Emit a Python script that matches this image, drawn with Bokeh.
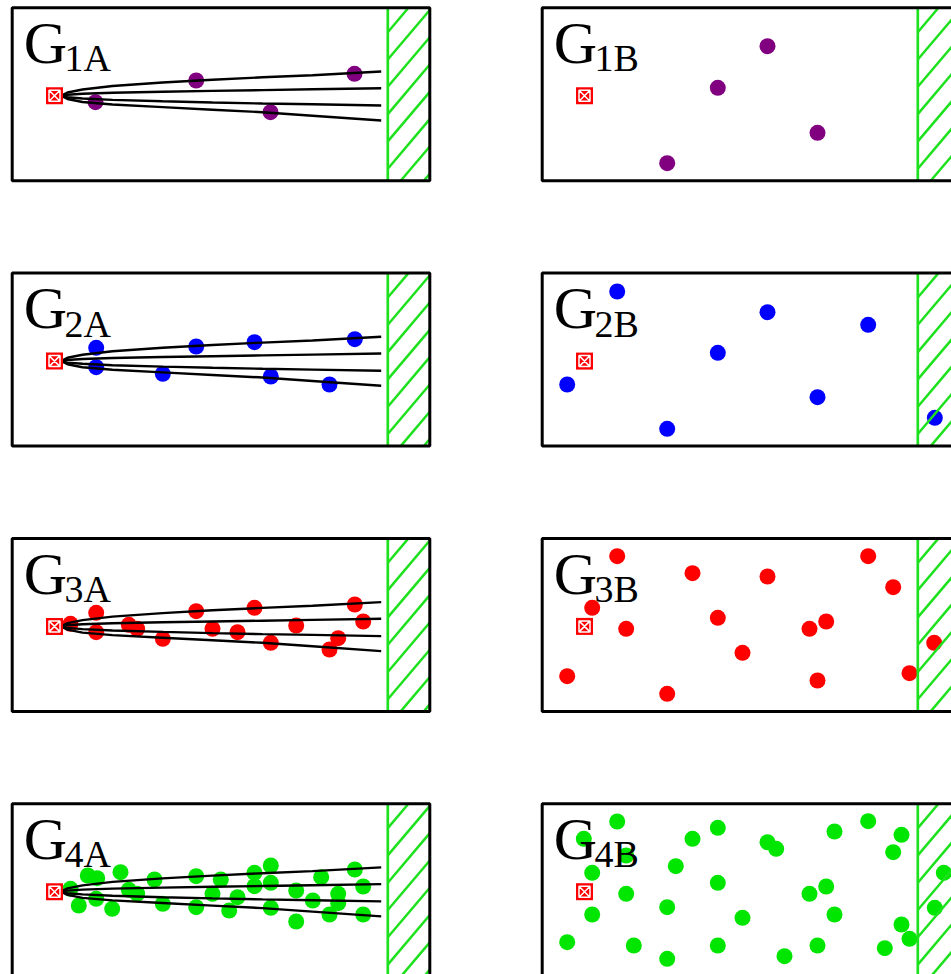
from bokeh.plotting import figure
from bokeh.models import Range1d
from bokeh.embed import file_html
from bokeh.resources import INLINE
from bokeh.core.properties import value

# ---------------- data (panel-local units: x to the right, y downward from the box's top-left) -------------
PANEL_LABELS = [["1A", "1B"], ["2A", "2B"], ["3A", "3B"], ["4A", "4B"]]
DOT_COLORS = ["#800080", "#0000ff", "#ff0000", "#00e600"]

SOURCE_X = [42.3]
SOURCE_Y = [88.0]

# sampled points of the four ray paths (A panels)
RAY_X = [50.3, 55.3, 70.3, 100.3, 150.3, 200.3, 250.3, 300.3, 369.0]
RAY_1_Y = [87.2, 84.7, 81.7, 78.2, 74.7, 71.9, 69.5, 67.4, 63.7]
RAY_2_Y = [87.7, 86.9, 85.9, 84.9, 83.9, 83.1, 82.3, 81.5, 80.4]
RAY_3_Y = [88.5, 89.5, 90.7, 92.1, 93.5, 94.7, 95.7, 96.5, 97.7]
RAY_4_Y = [88.7, 91.2, 94.2, 96.7, 99.3, 101.9, 104.4, 107.9, 112.7]

G1A_X = [83.3, 184.0, 258.3, 342.3]
G1A_Y = [94.4, 72.7, 104.4, 66.0]
G1B_X = [125.0, 175.6, 225.3, 275.3]
G1B_Y = [155.4, 80.0, 38.4, 125.0]

G2A_X = [84.0, 84.0, 150.6, 184.0, 242.3, 258.6, 317.3, 342.6]
G2A_Y = [74.7, 94.1, 100.7, 73.4, 69.1, 103.4, 111.4, 66.1]
G2B_X = [25.0, 75.0, 125.0, 175.6, 225.3, 275.3, 326.0, 392.6]
G2B_Y = [111.4, 18.4, 155.7, 79.7, 39.1, 124.1, 51.7, 144.7]

G3A_X = [58.3, 84.0, 84.0, 116.6, 125.0, 150.6, 184.0, 200.3, 225.3, 242.3, 258.6, 284.0, 317.3, 326.0, 342.6, 351.0]
G3A_Y = [85.4, 74.4, 93.8, 86.4, 90.4, 100.4, 72.8, 90.4, 93.8, 69.4, 104.4, 87.1, 111.1, 99.8, 66.1, 83.1]
G3B_X = [75.0, 150.3, 225.3, 326.0, 351.0, 50.0, 84.0, 175.6, 267.3, 284.0, 200.3, 25.0, 125.0, 275.3, 367.3, 392.0]
G3B_Y = [17.8, 34.8, 38.1, 17.8, 48.8, 69.4, 90.4, 79.4, 90.4, 83.1, 114.4, 137.8, 155.4, 142.1, 134.8, 104.4]

G4A_X = [58.3, 75.6, 85.0, 66.6, 84.0, 100.0, 108.3, 116.6, 125.0, 142.3, 150.6, 184.0, 184.0, 200.3, 208.6, 217.0,
         225.3, 242.3, 242.3, 258.6, 258.6, 258.6, 284.0, 284.0, 300.6, 309.0, 317.3, 326.0, 326.0, 342.6, 351.0, 351.0]
G4A_Y = [85.1, 71.8, 74.5, 101.8, 95.1, 105.1, 68.5, 86.1, 90.1, 75.8, 100.1, 72.5, 103.5, 90.1, 75.8, 106.8,
         93.5, 69.1, 82.5, 61.8, 79.1, 104.1, 86.8, 117.8, 96.8, 73.5, 110.8, 90.1, 99.5, 65.8, 82.8, 110.8]
G4B_X = [75.0, 41.6, 84.0, 50.0, 84.0, 50.0, 25.0, 91.6, 125.0, 125.0, 133.6, 150.3, 175.6, 175.6, 175.6, 200.3,
         225.3, 234.0, 242.3, 267.3, 284.0, 275.3, 292.3, 292.3, 326.0, 359.3, 351.0, 342.6, 359.3, 367.3, 401.6, 392.6]
G4B_Y = [17.8, 35.1, 51.8, 69.1, 90.1, 110.8, 138.5, 141.8, 155.1, 103.5, 62.5, 35.1, 24.1, 79.1, 141.8, 114.1,
         38.5, 45.1, 152.5, 90.1, 82.8, 141.8, 110.8, 27.8, 17.5, 31.1, 48.5, 144.5, 120.8, 135.1, 69.1, 104.1]

DOTS = {
    "1A": (G1A_X, G1A_Y), "1B": (G1B_X, G1B_Y),
    "2A": (G2A_X, G2A_Y), "2B": (G2B_X, G2B_Y),
    "3A": (G3A_X, G3A_Y), "3B": (G3B_X, G3B_Y),
    "4A": (G4A_X, G4A_Y), "4B": (G4B_X, G4B_Y),
}

# ---------------- layout / style ----------------
COL_X0 = [11.7, 541.7]
ROW_Y0 = [7.3, 272.6, 537.9, 803.2]
BOX_W = 417.6
BOX_H = 173.0
WALL_X = 375.6
HATCH_SLOPE = 1.18
HATCH_STEP = 27.3
HATCH_PHASE = 24.4
GREEN = "#1ee11e"
SERIF = value("Liberation Serif")

p = figure(width=951, height=974, x_range=Range1d(0, 951), y_range=Range1d(974, 0),
           output_backend="svg", toolbar_location=None, min_border=0)
p.axis.visible = False
p.grid.visible = False
p.outline_line_color = None
p.background_fill_color = "white"
p.border_fill_color = "white"

for r, row in enumerate(PANEL_LABELS):
    for c, lab in enumerate(row):
        ox, oy = COL_X0[c], ROW_Y0[r]
        dx, dy = DOTS[lab]
        p.scatter([ox + v for v in dx], [oy + v for v in dy], size=16,
                  fill_color=DOT_COLORS[r], line_color=None)

for r in range(4):
    for c in range(2):
        ox, oy = COL_X0[c], ROW_Y0[r]
        wx0, wx1 = ox + WALL_X, ox + BOX_W
        y0, y1 = oy, oy + BOX_H
        sx0, sy0, sx1, sy1 = [], [], [], []
        k = -3
        while True:
            cc = y0 + HATCH_PHASE + k * HATCH_STEP
            if cc - HATCH_SLOPE * (wx1 - wx0) > y1:
                break
            xa = max(wx0, wx0 + (cc - y1) / HATCH_SLOPE)
            xb = min(wx1, wx0 + (cc - y0) / HATCH_SLOPE)
            if xa < xb:
                sx0.append(xa); sy0.append(cc - HATCH_SLOPE * (xa - wx0))
                sx1.append(xb); sy1.append(cc - HATCH_SLOPE * (xb - wx0))
            k += 1
        p.segment(sx0, sy0, sx1, sy1, line_color=GREEN, line_width=2.5)
        p.segment([wx0], [y0], [wx0], [y1], line_color=GREEN, line_width=2.7)

lefts, rights, tops, bottoms = [], [], [], []
for r in range(4):
    for c in range(2):
        lefts.append(COL_X0[c]); rights.append(COL_X0[c] + BOX_W)
        tops.append(ROW_Y0[r]); bottoms.append(ROW_Y0[r] + BOX_H)
p.quad(left=lefts, right=rights, top=tops, bottom=bottoms, fill_color=None,
       line_color="black", line_width=3)

xs, ys = [], []
for r in range(4):
    ox, oy = COL_X0[0], ROW_Y0[r]
    for ray in (RAY_1_Y, RAY_2_Y, RAY_3_Y, RAY_4_Y):
        xs.append([ox + v for v in RAY_X])
        ys.append([oy + v for v in ray])
p.multi_line(xs, ys, line_color="black", line_width=2.4)

srcx = [COL_X0[c] + SOURCE_X[0] for r in range(4) for c in range(2)]
srcy = [ROW_Y0[r] + SOURCE_Y[0] for r in range(4) for c in range(2)]
p.scatter(srcx, srcy, marker="square", size=17, fill_color="#ff0000", line_color=None)
p.scatter(srcx, srcy, marker="square_x", size=11, fill_color="#ff0000", line_color="white", line_width=1.5)

gx, gy, sx, sy, stxt = [], [], [], [], []
for r, row in enumerate(PANEL_LABELS):
    for c, lab in enumerate(row):
        gx.append(COL_X0[c] + 11.5); gy.append(ROW_Y0[r] + 35.2)
        sx.append(COL_X0[c] + 52.4); sy.append(ROW_Y0[r] + 50.4); stxt.append(lab)
p.text(gx, gy, text=["G"] * len(gx), text_font=SERIF, text_font_size=value("60px"),
       text_baseline="alphabetic", text_align="left", text_color="black")
p.text(sx, sy, text=stxt, text_font=SERIF, text_font_size=value("38px"),
       text_baseline="alphabetic", text_align="left", text_color="black")

open("out.html", "w").write(file_html(p, INLINE))
